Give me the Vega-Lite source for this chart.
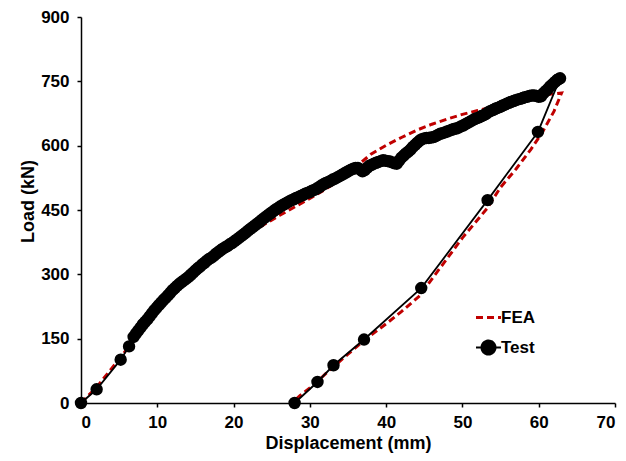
{
  "$schema": "https://vega.github.io/schema/vega-lite/v6.json",
  "width": 534,
  "height": 386,
  "autosize": {"type": "none"},
  "padding": {"left": 81, "top": 17, "right": 11, "bottom": 58},
  "background": "#ffffff",
  "config": {
    "view": {"stroke": null},
    "font": "Liberation Sans",
    "axis": {
      "grid": false,
      "domainColor": "#000000",
      "domainWidth": 1.5,
      "tickColor": "#000000",
      "tickWidth": 1.5,
      "tickSize": 4,
      "labelFont": "Liberation Sans",
      "labelFontSize": 17,
      "labelFontWeight": "bold",
      "labelColor": "#000000",
      "titleFont": "Liberation Sans",
      "titleFontSize": 18,
      "titleFontWeight": "bold",
      "titleColor": "#000000"
    }
  },
  "datasets": {
    "fea": [
      {"i": 1, "x": 0, "y": 0}, {"i": 2, "x": 2, "y": 36}, {"i": 3, "x": 4, "y": 80}, {"i": 4, "x": 6, "y": 125},
      {"i": 5, "x": 8, "y": 170}, {"i": 6, "x": 10, "y": 212}, {"i": 7, "x": 12, "y": 250}, {"i": 8, "x": 14, "y": 285},
      {"i": 9, "x": 16, "y": 316}, {"i": 10, "x": 18, "y": 344}, {"i": 11, "x": 20, "y": 370}, {"i": 12, "x": 22, "y": 394},
      {"i": 13, "x": 24, "y": 416}, {"i": 14, "x": 26, "y": 437}, {"i": 15, "x": 28, "y": 457}, {"i": 16, "x": 30, "y": 477},
      {"i": 17, "x": 32, "y": 498}, {"i": 18, "x": 34, "y": 521}, {"i": 19, "x": 36, "y": 550}, {"i": 20, "x": 38, "y": 580},
      {"i": 21, "x": 40, "y": 601}, {"i": 22, "x": 42, "y": 619}, {"i": 23, "x": 44, "y": 636}, {"i": 24, "x": 46, "y": 650},
      {"i": 25, "x": 48, "y": 662}, {"i": 26, "x": 50, "y": 673}, {"i": 27, "x": 52, "y": 682}, {"i": 28, "x": 54, "y": 690},
      {"i": 29, "x": 56, "y": 700}, {"i": 30, "x": 58, "y": 709}, {"i": 31, "x": 60, "y": 716}, {"i": 32, "x": 62, "y": 721},
      {"i": 33, "x": 63, "y": 723}, {"i": 34, "x": 62, "y": 680}, {"i": 35, "x": 60.5, "y": 632}, {"i": 36, "x": 59, "y": 592},
      {"i": 37, "x": 57, "y": 545}, {"i": 38, "x": 55, "y": 503}, {"i": 39, "x": 53.2, "y": 453}, {"i": 40, "x": 50, "y": 385},
      {"i": 41, "x": 47.5, "y": 325}, {"i": 42, "x": 45.7, "y": 282}, {"i": 43, "x": 44.4, "y": 250}, {"i": 44, "x": 42, "y": 213},
      {"i": 45, "x": 40.1, "y": 186}, {"i": 46, "x": 37.4, "y": 150}, {"i": 47, "x": 35, "y": 114}, {"i": 48, "x": 32.6, "y": 77},
      {"i": 49, "x": 30.5, "y": 42}, {"i": 50, "x": 28.7, "y": 17}, {"i": 51, "x": 28, "y": 6}
    ],
    "test": [
      {"i": 1, "x": 0, "y": 0}, {"i": 2, "x": 2.05, "y": 32}, {"i": 3, "x": 5.2, "y": 101}, {"i": 4, "x": 6.3, "y": 132},
      {"i": 5, "x": 6.9, "y": 154}, {"i": 6, "x": 7.2, "y": 162}, {"i": 7, "x": 7.5, "y": 169}, {"i": 8, "x": 7.8, "y": 176},
      {"i": 9, "x": 8.1, "y": 183}, {"i": 10, "x": 8.4, "y": 189}, {"i": 11, "x": 8.7, "y": 195}, {"i": 12, "x": 9.0, "y": 202},
      {"i": 13, "x": 9.3, "y": 209}, {"i": 14, "x": 9.6, "y": 216}, {"i": 15, "x": 9.9, "y": 222}, {"i": 16, "x": 10.2, "y": 228},
      {"i": 17, "x": 10.5, "y": 234}, {"i": 18, "x": 10.8, "y": 240}, {"i": 19, "x": 11.1, "y": 245}, {"i": 20, "x": 11.4, "y": 251},
      {"i": 21, "x": 11.7, "y": 257}, {"i": 22, "x": 12.0, "y": 263}, {"i": 23, "x": 12.3, "y": 268}, {"i": 24, "x": 12.6, "y": 273},
      {"i": 25, "x": 12.9, "y": 278}, {"i": 26, "x": 13.2, "y": 282}, {"i": 27, "x": 13.5, "y": 286}, {"i": 28, "x": 13.8, "y": 290},
      {"i": 29, "x": 14.1, "y": 294}, {"i": 30, "x": 14.4, "y": 299}, {"i": 31, "x": 14.7, "y": 304}, {"i": 32, "x": 15.0, "y": 309},
      {"i": 33, "x": 15.3, "y": 314}, {"i": 34, "x": 15.6, "y": 318}, {"i": 35, "x": 15.9, "y": 323}, {"i": 36, "x": 16.2, "y": 327},
      {"i": 37, "x": 16.5, "y": 332}, {"i": 38, "x": 16.8, "y": 336}, {"i": 39, "x": 17.1, "y": 339}, {"i": 40, "x": 17.4, "y": 343},
      {"i": 41, "x": 17.7, "y": 348}, {"i": 42, "x": 18.0, "y": 352}, {"i": 43, "x": 18.3, "y": 356}, {"i": 44, "x": 18.6, "y": 360},
      {"i": 45, "x": 18.9, "y": 363}, {"i": 46, "x": 19.2, "y": 366}, {"i": 47, "x": 19.5, "y": 370}, {"i": 48, "x": 19.8, "y": 373},
      {"i": 49, "x": 20.1, "y": 377}, {"i": 50, "x": 20.4, "y": 381}, {"i": 51, "x": 20.7, "y": 385}, {"i": 52, "x": 21.0, "y": 389},
      {"i": 53, "x": 21.3, "y": 393}, {"i": 54, "x": 21.6, "y": 397}, {"i": 55, "x": 21.9, "y": 402}, {"i": 56, "x": 22.2, "y": 406},
      {"i": 57, "x": 22.5, "y": 410}, {"i": 58, "x": 22.8, "y": 414}, {"i": 59, "x": 23.1, "y": 418}, {"i": 60, "x": 23.4, "y": 422},
      {"i": 61, "x": 23.7, "y": 427}, {"i": 62, "x": 24.0, "y": 431}, {"i": 63, "x": 24.3, "y": 435}, {"i": 64, "x": 24.6, "y": 439},
      {"i": 65, "x": 24.9, "y": 443}, {"i": 66, "x": 25.2, "y": 447}, {"i": 67, "x": 25.5, "y": 451}, {"i": 68, "x": 25.8, "y": 454},
      {"i": 69, "x": 26.1, "y": 458}, {"i": 70, "x": 26.4, "y": 461}, {"i": 71, "x": 26.7, "y": 464}, {"i": 72, "x": 27.0, "y": 467},
      {"i": 73, "x": 27.3, "y": 470}, {"i": 74, "x": 27.6, "y": 473}, {"i": 75, "x": 27.9, "y": 475}, {"i": 76, "x": 28.2, "y": 478},
      {"i": 77, "x": 28.5, "y": 480}, {"i": 78, "x": 28.8, "y": 483}, {"i": 79, "x": 29.1, "y": 485}, {"i": 80, "x": 29.4, "y": 488},
      {"i": 81, "x": 29.7, "y": 490}, {"i": 82, "x": 30.0, "y": 492}, {"i": 83, "x": 30.3, "y": 495}, {"i": 84, "x": 30.6, "y": 497},
      {"i": 85, "x": 30.9, "y": 500}, {"i": 86, "x": 31.2, "y": 503}, {"i": 87, "x": 31.5, "y": 507}, {"i": 88, "x": 31.8, "y": 510},
      {"i": 89, "x": 32.1, "y": 513}, {"i": 90, "x": 32.4, "y": 515}, {"i": 91, "x": 32.7, "y": 518}, {"i": 92, "x": 33.0, "y": 521},
      {"i": 93, "x": 33.3, "y": 523}, {"i": 94, "x": 33.6, "y": 526}, {"i": 95, "x": 33.9, "y": 529}, {"i": 96, "x": 34.2, "y": 532},
      {"i": 97, "x": 34.5, "y": 535}, {"i": 98, "x": 34.8, "y": 538}, {"i": 99, "x": 35.1, "y": 541}, {"i": 100, "x": 35.4, "y": 544},
      {"i": 101, "x": 35.7, "y": 546}, {"i": 102, "x": 36.0, "y": 548}, {"i": 103, "x": 36.3, "y": 548}, {"i": 104, "x": 36.6, "y": 544},
      {"i": 105, "x": 36.9, "y": 540}, {"i": 106, "x": 37.2, "y": 543}, {"i": 107, "x": 37.5, "y": 548}, {"i": 108, "x": 37.8, "y": 553},
      {"i": 109, "x": 38.1, "y": 555}, {"i": 110, "x": 38.4, "y": 558}, {"i": 111, "x": 38.7, "y": 560}, {"i": 112, "x": 39.0, "y": 562},
      {"i": 113, "x": 39.3, "y": 564}, {"i": 114, "x": 39.6, "y": 566}, {"i": 115, "x": 39.9, "y": 565}, {"i": 116, "x": 40.2, "y": 564},
      {"i": 117, "x": 40.5, "y": 563}, {"i": 118, "x": 40.8, "y": 561}, {"i": 119, "x": 41.1, "y": 559}, {"i": 120, "x": 41.4, "y": 558},
      {"i": 121, "x": 41.7, "y": 565}, {"i": 122, "x": 42.0, "y": 572}, {"i": 123, "x": 42.3, "y": 577}, {"i": 124, "x": 42.6, "y": 582},
      {"i": 125, "x": 42.9, "y": 586}, {"i": 126, "x": 43.2, "y": 591}, {"i": 127, "x": 43.5, "y": 597}, {"i": 128, "x": 43.8, "y": 602},
      {"i": 129, "x": 44.1, "y": 607}, {"i": 130, "x": 44.4, "y": 612}, {"i": 131, "x": 44.7, "y": 615}, {"i": 132, "x": 45.0, "y": 617},
      {"i": 133, "x": 45.3, "y": 618}, {"i": 134, "x": 45.6, "y": 618}, {"i": 135, "x": 45.9, "y": 619}, {"i": 136, "x": 46.2, "y": 620},
      {"i": 137, "x": 46.5, "y": 622}, {"i": 138, "x": 46.8, "y": 625}, {"i": 139, "x": 47.1, "y": 628}, {"i": 140, "x": 47.4, "y": 629},
      {"i": 141, "x": 47.7, "y": 631}, {"i": 142, "x": 48.0, "y": 633}, {"i": 143, "x": 48.3, "y": 635}, {"i": 144, "x": 48.6, "y": 637},
      {"i": 145, "x": 48.9, "y": 639}, {"i": 146, "x": 49.2, "y": 640}, {"i": 147, "x": 49.5, "y": 642}, {"i": 148, "x": 49.8, "y": 645},
      {"i": 149, "x": 50.1, "y": 647}, {"i": 150, "x": 50.4, "y": 650}, {"i": 151, "x": 50.7, "y": 653}, {"i": 152, "x": 51.0, "y": 656},
      {"i": 153, "x": 51.3, "y": 659}, {"i": 154, "x": 51.6, "y": 662}, {"i": 155, "x": 51.9, "y": 664}, {"i": 156, "x": 52.2, "y": 666},
      {"i": 157, "x": 52.5, "y": 669}, {"i": 158, "x": 52.8, "y": 671}, {"i": 159, "x": 53.1, "y": 674}, {"i": 160, "x": 53.4, "y": 678},
      {"i": 161, "x": 53.7, "y": 681}, {"i": 162, "x": 54.0, "y": 683}, {"i": 163, "x": 54.3, "y": 686}, {"i": 164, "x": 54.6, "y": 688},
      {"i": 165, "x": 54.9, "y": 690}, {"i": 166, "x": 55.2, "y": 693}, {"i": 167, "x": 55.5, "y": 695}, {"i": 168, "x": 55.8, "y": 698},
      {"i": 169, "x": 56.1, "y": 700}, {"i": 170, "x": 56.4, "y": 702}, {"i": 171, "x": 56.7, "y": 704}, {"i": 172, "x": 57.0, "y": 706},
      {"i": 173, "x": 57.3, "y": 708}, {"i": 174, "x": 57.6, "y": 709}, {"i": 175, "x": 57.9, "y": 711}, {"i": 176, "x": 58.2, "y": 713},
      {"i": 177, "x": 58.5, "y": 714}, {"i": 178, "x": 58.8, "y": 716}, {"i": 179, "x": 59.1, "y": 717}, {"i": 180, "x": 59.4, "y": 717},
      {"i": 181, "x": 59.7, "y": 716}, {"i": 182, "x": 60.0, "y": 714}, {"i": 183, "x": 60.3, "y": 715}, {"i": 184, "x": 60.6, "y": 722},
      {"i": 185, "x": 60.9, "y": 727}, {"i": 186, "x": 61.2, "y": 732}, {"i": 187, "x": 61.5, "y": 738}, {"i": 188, "x": 61.8, "y": 743},
      {"i": 189, "x": 62.1, "y": 748}, {"i": 190, "x": 62.4, "y": 753}, {"i": 191, "x": 62.6, "y": 755}, {"i": 192, "x": 62.8, "y": 757},
      {"i": 193, "x": 59.9, "y": 632}, {"i": 194, "x": 53.3, "y": 473}, {"i": 195, "x": 44.6, "y": 268}, {"i": 196, "x": 37.1, "y": 148},
      {"i": 197, "x": 33.1, "y": 88}, {"i": 198, "x": 31.0, "y": 49}, {"i": 199, "x": 28.0, "y": 0}
    ]
  },
  "encoding": {
    "x": {
      "field": "x", "type": "quantitative",
      "scale": {"domain": [0, 70], "nice": false},
      "axis": {"values": [0, 10, 20, 30, 40, 50, 60, 70], "title": "Displacement (mm)", "labelPadding": 7, "titlePadding": 4}
    },
    "y": {
      "field": "y", "type": "quantitative",
      "scale": {"domain": [0, 900], "nice": false},
      "axis": {"values": [0, 150, 300, 450, 600, 750, 900], "title": "Load (kN)", "labelPadding": 8, "titlePadding": 3, "titleY": 184}
    },
    "order": {"field": "i", "type": "quantitative"}
  },
  "layer": [
    {
      "data": {"name": "fea"},
      "transform": [{"calculate": "'FEA'", "as": "series"}],
      "mark": {"type": "line", "strokeWidth": 3, "strokeDash": [7, 4], "clip": false},
      "encoding": {
        "color": {
          "field": "series", "type": "nominal",
          "scale": {"domain": ["FEA", "Test"], "range": ["#C00000", "#000000"]},
          "legend": {
            "orient": "none", "legendX": 399, "legendY": 292, "title": null,
            "symbolSize": 625, "padding": 0, "rowPadding": 10, "labelOffset": 4,
            "labelFont": "Liberation Sans", "labelFontSize": 17, "labelFontWeight": "bold", "labelColor": "#000000",
            "encode": {
              "symbols": {
                "update": {
                  "shape": {"signal": "datum.value === 'Test' ? 'M-1,0L1,0M0.56,0A0.56,0.56,0,1,1,-0.56,0A0.56,0.56,0,1,1,0.56,0Z' : 'stroke'"},
                  "fill": {"signal": "datum.value === 'Test' ? '#000000' : 'transparent'"},
                  "stroke": {"signal": "datum.value === 'Test' ? '#000000' : '#C00000'"},
                  "strokeDash": {"signal": "datum.value === 'Test' ? [1, 0] : [7, 4]"},
                  "strokeWidth": {"signal": "datum.value === 'Test' ? 2 : 3"},
                  "opacity": {"value": 1}
                }
              }
            }
          }
        }
      }
    },
    {
      "data": {"name": "test"},
      "transform": [{"calculate": "'Test'", "as": "series"}],
      "mark": {"type": "line", "strokeWidth": 1.8},
      "encoding": {"color": {"field": "series", "type": "nominal"}}
    },
    {
      "data": {"name": "test"},
      "transform": [{"calculate": "'Test'", "as": "series"}],
      "mark": {"type": "circle", "size": 154, "opacity": 1, "clip": false},
      "encoding": {"color": {"field": "series", "type": "nominal"}}
    }
  ]
}
